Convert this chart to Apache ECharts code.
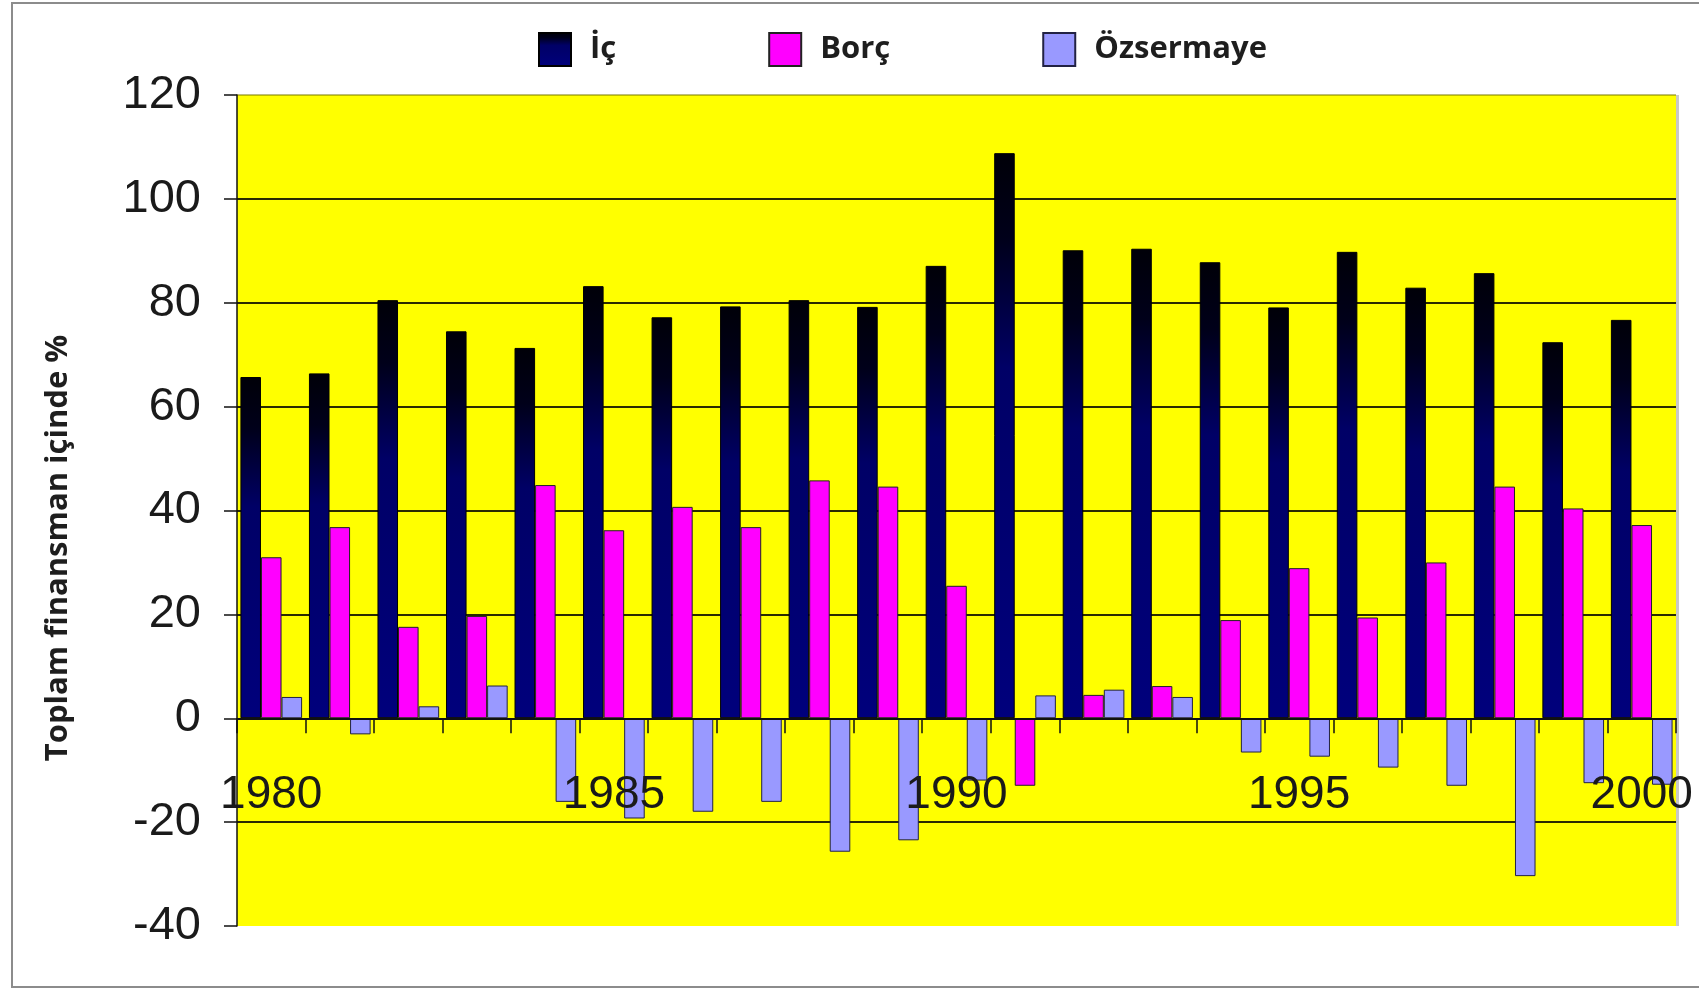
<!DOCTYPE html>
<html>
<head>
<meta charset="utf-8">
<script src="https://cdn.jsdelivr.net/npm/echarts@6/dist/echarts.min.js"></script>
<style>
  html, body { margin: 0; padding: 0; background: #ffffff; }
  #chart { width: 1699px; height: 990px; }
</style>
</head>
<body>
<div id="chart"></div>
<script>
// Financing sources as a share of total financing, 1980-2000
const years = ['1980','1981','1982','1983','1984','1985','1986','1987','1988','1989','1990',
               '1991','1992','1993','1994','1995','1996','1997','1998','1999','2000'];
const ic = [65.7, 66.4, 80.5, 74.5, 71.3, 83.2, 77.2, 79.3, 80.5, 79.2, 87.1,
            108.8, 90.1, 90.4, 87.8, 79.1, 89.8, 82.9, 85.7, 72.4, 76.7];
const borc = [31.0, 36.8, 17.6, 19.7, 44.9, 36.2, 40.7, 36.8, 45.8, 44.6, 25.5,
              -13.0, 4.5, 6.2, 18.9, 28.9, 19.4, 30.0, 44.6, 40.4, 37.2];
const ozsermaye = [4.1, -3.1, 2.3, 6.3, -16.1, -19.3, -18.0, -16.1, -25.7, -23.5, -12.0,
                   4.4, 5.5, 4.1, -6.6, -7.4, -9.5, -13.0, -30.4, -12.5, -12.8];
const seriesNames = ['İç', 'Borç', 'Özsermaye'];
const yTitle = 'Toplam finansman içinde %';
const yMin = -40, yMax = 120, yStep = 20;

// plot box
const grid = { left: 237, right: 23, top: 95, bottom: 64 };
const plotHeight = 990 - grid.top - grid.bottom;
// the category axis sits on the zero line of the value axis
const zeroShift = -plotHeight * (0 - yMin) / (yMax - yMin);

const chart = echarts.init(document.getElementById('chart'), null, { renderer: 'canvas' });

const icFill = new echarts.graphic.LinearGradient(0, 0, 0, 1, [
  { offset: 0, color: '#000008' },
  { offset: 0.15, color: '#00001a' },
  { offset: 0.38, color: '#000066' },
  { offset: 1, color: '#00007c' }
]);

chart.setOption({
  animation: false,
  backgroundColor: '#ffffff',
  textStyle: { fontFamily: '"Liberation Sans", Arial, sans-serif' },
  graphic: [
    {
      type: 'rect',
      shape: { x: 12, y: 3, width: 1720, height: 984 },
      style: { fill: 'none', stroke: '#8c8c8c', lineWidth: 2 },
      silent: true, z: -10
    },
    {
      type: 'rect',
      shape: { x: 1676, y: 95, width: 3, height: 831 },
      style: { fill: '#c8c8c8' },
      silent: true, z: -5
    },
    {
      type: 'text',
      x: 58, y: 548,
      rotation: Math.PI / 2,
      style: {
        text: yTitle,
        font: 'bold 31px "Open Sans", "Liberation Sans", sans-serif',
        fill: '#1e1e1e',
        align: 'center',
        verticalAlign: 'middle'
      }
    }
  ],
  legend: {
    left: 533, top: 27,
    itemWidth: 32, itemHeight: 33,
    itemGap: 152,
    icon: 'rect',
    textStyle: {
      fontFamily: '"Open Sans", "Liberation Sans", sans-serif',
      fontWeight: 'bold',
      fontSize: 31,
      color: '#1e1e1e',
      padding: [0, 0, 0, 14]
    },
    data: seriesNames
  },
  grid: Object.assign({
    show: true,
    backgroundColor: '#ffff00',
    borderWidth: 0,
    containLabel: false,
    outerBoundsMode: 'none'
  }, grid),
  xAxis: {
    type: 'category',
    data: years,
    position: 'bottom',
    offset: zeroShift,
    z: 5,
    axisLine: { onZero: false, lineStyle: { color: '#111', width: 2 } },
    axisTick: { show: true, interval: 0, length: 15, inside: false, lineStyle: { color: '#111', width: 1.5 } },
    axisLabel: { interval: 4, margin: 54, fontSize: 46, color: '#1a1a1a' },
    splitLine: { show: false }
  },
  yAxis: {
    type: 'value',
    min: yMin, max: yMax, interval: yStep,
    axisLine: { show: true, lineStyle: { color: '#111', width: 1.5 } },
    axisTick: { show: true, length: 13, lineStyle: { color: '#111', width: 1.5 } },
    axisLabel: { margin: 36, fontSize: 47, color: '#1a1a1a' },
    splitLine: {
      show: true,
      lineStyle: {
        color: ['rgba(0,0,0,0)', '#2a2a00', '#2a2a00', '#2a2a00', '#2a2a00', '#2a2a00', '#2a2a00', '#2a2a00', 'rgba(120,120,0,0.5)'],
        width: 2
      }
    }
  },
  series: [
    {
      name: seriesNames[0], type: 'bar', data: ic,
      barGap: '0%', barCategoryGap: '10%',
      itemStyle: { color: icFill, borderColor: '#000000', borderWidth: 1 }
    },
    {
      name: seriesNames[1], type: 'bar', data: borc,
      barGap: '0%', barCategoryGap: '10%',
      itemStyle: { color: '#ff00ff', borderColor: '#222222', borderWidth: 1 }
    },
    {
      name: seriesNames[2], type: 'bar', data: ozsermaye,
      barGap: '0%', barCategoryGap: '10%',
      itemStyle: { color: '#9999ff', borderColor: '#222244', borderWidth: 1 }
    }
  ]
});
</script>
</body>
</html>
